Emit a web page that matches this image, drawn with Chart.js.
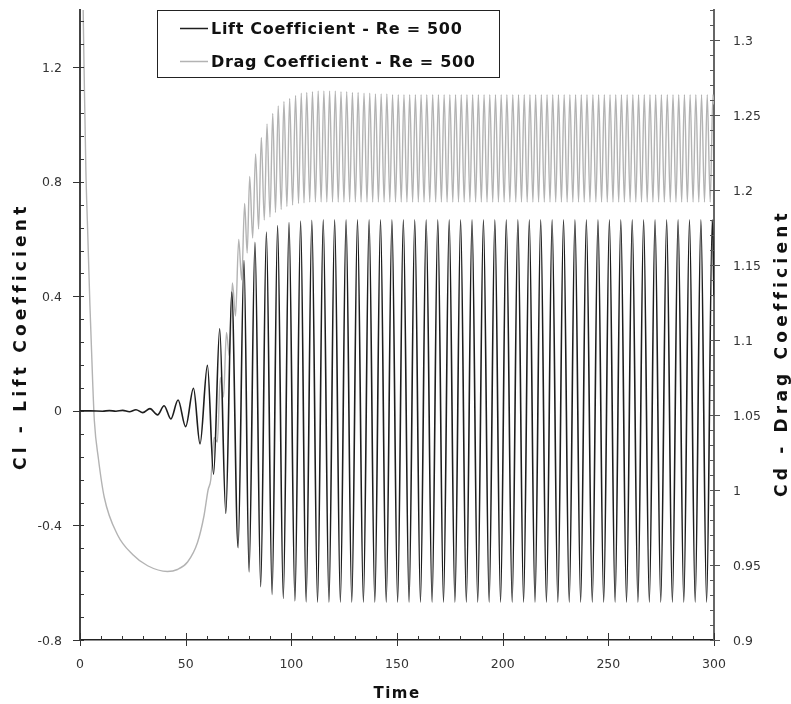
<!DOCTYPE html>
<html>
<head>
<meta charset="utf-8">
<title>Lift and Drag Coefficient - Re = 500</title>
<script src="https://cdn.jsdelivr.net/npm/chart.js@4.4.1/dist/chart.umd.min.js"></script>
<style>
  html, body { margin: 0; padding: 0; background: #fff; }
  #chart { display: block; }
</style>
</head>
<body>
<canvas id="chart" width="791" height="704"></canvas>
<script>
// Tick labels
var timeTicks = [0, 50, 100, 150, 200, 250, 300];
var liftTicks = [-0.8, -0.4, 0, 0.4, 0.8, 1.2];
var dragTicks = [0.9, 0.95, 1, 1.05, 1.1, 1.15, 1.2, 1.25, 1.3];

// Lift coefficient: start / end points, then the peaks and troughs
var liftEdgeTime = [0, 5, 300];
var liftEdge = [0, 0, 0.40];

var liftPeakTime = [13.9, 20.2, 26.5, 33.1, 39.8, 46.4, 53.7, 60.3, 66.1, 71.8,
  77.6, 82.8, 88.2, 93.5, 98.9, 104.4, 109.7,
  115.1, 120.5, 125.9, 131.3, 136.8, 142.2, 147.6, 153.0, 158.4, 163.8,
  169.3, 174.7, 180.1, 185.5, 190.9, 196.3, 201.7, 207.2, 212.6, 218.0,
  223.4, 228.8, 234.2, 239.6, 245.1, 250.5, 255.9, 261.3, 266.7, 272.1,
  277.6, 283.0, 288.4, 293.8, 299.2];
var liftPeak = [0.001, 0.002, 0.004, 0.008, 0.018, 0.038, 0.079, 0.159, 0.287, 0.415,
  0.525, 0.589, 0.625, 0.647, 0.658, 0.663, 0.666,
  0.667, 0.667, 0.667, 0.667, 0.667, 0.667, 0.667, 0.667, 0.667, 0.667,
  0.667, 0.667, 0.667, 0.667, 0.667, 0.667, 0.667, 0.667, 0.667, 0.667,
  0.667, 0.667, 0.667, 0.667, 0.667, 0.667, 0.667, 0.667, 0.667, 0.667,
  0.667, 0.667, 0.667, 0.667, 0.667];

var liftTroughTime = [10.7, 17.0, 23.4, 29.7, 36.7, 43.0, 50.0, 56.8, 63.2, 69.0,
  74.8, 80.0, 85.5, 90.9, 96.2, 101.7, 107.0,
  112.4, 117.8, 123.2, 128.6, 134.1, 139.5, 144.9, 150.3, 155.7, 161.1,
  166.6, 172.0, 177.4, 182.8, 188.2, 193.6, 199.0, 204.5, 209.9, 215.3,
  220.7, 226.1, 231.5, 236.9, 242.4, 247.8, 253.2, 258.6, 264.0, 269.4,
  274.8, 280.3, 285.7, 291.1, 296.5];
var liftTrough = [-0.001, -0.001, -0.003, -0.006, -0.014, -0.028, -0.055, -0.115, -0.221, -0.358,
  -0.478, -0.562, -0.614, -0.641, -0.655, -0.664, -0.667,
  -0.668, -0.668, -0.668, -0.668, -0.668, -0.668, -0.668, -0.668, -0.668, -0.668,
  -0.668, -0.668, -0.668, -0.668, -0.668, -0.668, -0.668, -0.668, -0.668, -0.668,
  -0.668, -0.668, -0.668, -0.668, -0.668, -0.668, -0.668, -0.668, -0.668, -0.668,
  -0.668, -0.668, -0.668, -0.668, -0.668];

// Drag coefficient: initial decay, then peaks and troughs of the oscillation
var dragStartTime = [0, 0.5, 1.0, 1.5, 2.0, 2.8, 3.6, 4.7, 6.0, 6.8, 8.7,
  11.5, 17.8, 24.9, 32.0, 41.4, 46.1, 50.9, 55.6, 58.7, 60.6, 61.9];
var dragStart = [1.90, 1.55, 1.40, 1.32, 1.275, 1.212, 1.174, 1.123, 1.072, 1.046, 1.021,
  0.995, 0.970, 0.957, 0.9495, 0.9457, 0.947, 0.952, 0.965, 0.983, 1.000, 1.007];
var dragEndTime = [300];
var dragEnd = [1.257];

var dragPeakTime = [63.5, 66.4, 69.3, 72.1, 75.1, 77.9, 80.3, 83.1, 85.8, 88.5,
  91.2, 93.8, 96.5, 99.2, 102.0, 104.7, 107.3, 110.0, 112.7, 115.4,
  118.1, 120.8, 123.5, 126.2, 128.9, 131.6, 134.4, 137.1, 139.8, 142.5,
  145.2, 147.9, 150.6, 153.3, 156.0, 158.7, 161.4, 164.1, 166.9, 169.6,
  172.3, 175.0, 177.7, 180.4, 183.1, 185.8, 188.5, 191.2, 193.9, 196.6,
  199.3, 202.0, 204.8, 207.5, 210.2, 212.9, 215.6, 218.3, 221.0, 223.7,
  226.4, 229.1, 231.8, 234.5, 237.2, 239.9, 242.7, 245.4, 248.1, 250.8,
  253.5, 256.2, 258.9, 261.6, 264.3, 267.0, 269.7, 272.4, 275.1, 277.9,
  280.6, 283.3, 286.0, 288.7, 291.4, 294.1, 296.8, 299.5];
var dragPeak = [1.035, 1.075, 1.105, 1.138, 1.167, 1.191, 1.209, 1.224, 1.235, 1.244,
  1.251, 1.256, 1.259, 1.261, 1.263, 1.2645, 1.265, 1.2655, 1.266, 1.266,
  1.266, 1.266, 1.2655, 1.2655, 1.265, 1.265, 1.2645, 1.2645, 1.264, 1.264,
  1.264, 1.2635, 1.2635, 1.2635, 1.2635, 1.2635, 1.2635, 1.2635, 1.2635, 1.2635,
  1.2635, 1.2635, 1.2635, 1.2635, 1.2635, 1.2635, 1.2635, 1.2635, 1.2635, 1.2635,
  1.2635, 1.2635, 1.2635, 1.2635, 1.2635, 1.2635, 1.2635, 1.2635, 1.2635, 1.2635,
  1.2635, 1.2635, 1.2635, 1.2635, 1.2635, 1.2635, 1.2635, 1.2635, 1.2635, 1.2635,
  1.2635, 1.2635, 1.2635, 1.2635, 1.2635, 1.2635, 1.2635, 1.2635, 1.2635, 1.2635,
  1.2635, 1.2635, 1.2635, 1.2635, 1.2635, 1.2635, 1.2635, 1.2635];

var dragTroughTime = [65.0, 67.9, 70.7, 73.6, 76.5, 79.1, 81.7, 84.5, 87.2, 89.9,
  92.5, 95.2, 97.9, 100.6, 103.4, 106.0, 108.7, 111.4, 114.1, 116.8,
  119.5, 122.2, 124.9, 127.6, 130.3, 133.0, 135.8, 138.5, 141.2, 143.9,
  146.6, 149.3, 152.0, 154.7, 157.4, 160.1, 162.8, 165.5, 168.3, 171.0,
  173.7, 176.4, 179.1, 181.8, 184.5, 187.2, 189.9, 192.6, 195.3, 198.0,
  200.7, 203.4, 206.2, 208.9, 211.6, 214.3, 217.0, 219.7, 222.4, 225.1,
  227.8, 230.5, 233.2, 235.9, 238.6, 241.3, 244.1, 246.8, 249.5, 252.2,
  254.9, 257.6, 260.3, 263.0, 265.7, 268.4, 271.1, 273.8, 276.5, 279.3,
  282.0, 284.7, 287.4, 290.1, 292.8, 295.5, 298.2];
var dragTrough = [1.032, 1.062, 1.089, 1.116, 1.140, 1.158, 1.168, 1.174, 1.180, 1.182,
  1.185, 1.187, 1.189, 1.190, 1.191, 1.1915, 1.192, 1.192, 1.192, 1.192,
  1.192, 1.192, 1.192, 1.192, 1.192, 1.192, 1.192, 1.192, 1.192, 1.192,
  1.192, 1.192, 1.192, 1.192, 1.192, 1.192, 1.192, 1.192, 1.192, 1.192,
  1.192, 1.192, 1.192, 1.192, 1.192, 1.192, 1.192, 1.192, 1.192, 1.192,
  1.192, 1.192, 1.192, 1.192, 1.192, 1.192, 1.192, 1.192, 1.192, 1.192,
  1.192, 1.192, 1.192, 1.192, 1.192, 1.192, 1.192, 1.192, 1.192, 1.192,
  1.192, 1.192, 1.192, 1.192, 1.192, 1.192, 1.192, 1.192, 1.192, 1.192,
  1.192, 1.192, 1.192, 1.192, 1.192, 1.192, 1.192];

// pair up times and values, then sort everything along the time axis
function pairs(times, values) {
  return times.map(function(t, i) { return { x: t, y: values[i] }; });
}
function merge() {
  var out = [];
  for (var i = 0; i < arguments.length; i++) out = out.concat(arguments[i]);
  return out.sort(function(a, b) { return a.x - b.x; });
}

var liftPoints = merge(pairs(liftEdgeTime, liftEdge), pairs(liftPeakTime, liftPeak),
  pairs(liftTroughTime, liftTrough));
var dragPoints = merge(pairs(dragStartTime, dragStart), pairs(dragPeakTime, dragPeak),
  pairs(dragTroughTime, dragTrough), pairs(dragEndTime, dragEnd));

function fixedTicks(values) {
  return function(scale) {
    scale.ticks = values.map(function(v) { return { value: v }; });
  };
}
function fixedSize(w, h) {
  return function(scale) {
    if (w !== null) scale.width = w;
    if (h !== null) scale.height = h;
    scale.paddingTop = 0; scale.paddingBottom = 0;
    scale.paddingLeft = 0; scale.paddingRight = 0;
  };
}

// tick marks + labels, axis titles and the boxed legend
var decorations = {
  id: 'decorations',
  afterDraw: function(chart) {
    var ctx = chart.ctx;
    var a = chart.chartArea;
    var sx = chart.scales.x, sl = chart.scales.y, sr = chart.scales.y2;
    var k, p, major;
    ctx.save();
    ctx.strokeStyle = '#333';
    ctx.lineWidth = 1;

    for (k = 0; k <= 30; k++) {
      p = Math.round(sx.getPixelForValue(k * 10)) + 0.5;
      major = k % 5 === 0;
      ctx.beginPath();
      ctx.moveTo(p, a.bottom - (major ? 7 : 4));
      ctx.lineTo(p, a.bottom + (major ? 6 : 0));
      ctx.stroke();
    }
    for (k = 0; k <= 27; k++) {
      p = Math.round(sl.getPixelForValue(-0.8 + k * 0.08)) + 0.5;
      major = k % 5 === 0;
      ctx.beginPath();
      ctx.moveTo(a.left - (major ? 7 : 0), p);
      ctx.lineTo(a.left + 4, p);
      ctx.stroke();
    }
    ctx.strokeStyle = '#555';
    for (k = 0; k <= 42; k++) {
      p = Math.round(sr.getPixelForValue(0.9 + k * 0.01)) + 0.5;
      major = k % 5 === 0;
      ctx.beginPath();
      ctx.moveTo(a.right - 4, p);
      ctx.lineTo(a.right + (major ? 6 : 0), p);
      ctx.stroke();
    }

    // tick labels
    ctx.font = '12.5px "DejaVu Sans"';
    ctx.fillStyle = '#333';
    ctx.textBaseline = 'alphabetic';
    ctx.textAlign = 'center';
    timeTicks.forEach(function(v) {
      ctx.fillText(String(v), sx.getPixelForValue(v), a.bottom + 28);
    });
    ctx.textAlign = 'right';
    liftTicks.forEach(function(v) {
      ctx.fillText(String(v), a.left - 18, sl.getPixelForValue(v) + 4.5);
    });
    ctx.textAlign = 'left';
    dragTicks.forEach(function(v) {
      ctx.fillText(String(v), a.right + 19, sr.getPixelForValue(v) + 4.5);
    });

    // axis titles
    ctx.fillStyle = '#111';
    ctx.font = 'bold 15px "DejaVu Sans"';
    ctx.letterSpacing = '1.5px';
    ctx.textAlign = 'center';
    ctx.fillText('Time', (a.left + a.right) / 2, 698);

    ctx.font = 'bold 17px "DejaVu Sans"';
    ctx.letterSpacing = '4.2px';
    ctx.textAlign = 'left';
    ctx.save();
    ctx.translate(26, 470);
    ctx.rotate(-Math.PI / 2);
    ctx.fillText('Cl - Lift Coefficient', 0, 0);
    ctx.restore();
    ctx.save();
    ctx.translate(787, 497);
    ctx.rotate(-Math.PI / 2);
    ctx.fillText('Cd - Drag Coefficient', 0, 0);
    ctx.restore();

    // legend box
    ctx.letterSpacing = '0px';
    ctx.fillStyle = '#fff';
    ctx.fillRect(157, 10, 342, 67);
    ctx.strokeStyle = '#222';
    ctx.lineWidth = 1;
    ctx.strokeRect(157.5, 10.5, 342, 67);
    var rows = [28, 61];
    ctx.font = 'bold 16px "DejaVu Sans"';
    ctx.letterSpacing = '0.7px';
    chart.data.datasets.forEach(function(ds, i) {
      ctx.strokeStyle = ds.borderColor;
      ctx.lineWidth = 1.5;
      ctx.beginPath();
      ctx.moveTo(180, rows[i] + 0.5);
      ctx.lineTo(208, rows[i] + 0.5);
      ctx.stroke();
      ctx.fillStyle = '#111';
      ctx.fillText(ds.label, 211, rows[i] + 5.5);
    });
    ctx.restore();
  }
};

var chart = new Chart(document.getElementById('chart'), {
  type: 'line',
  data: {
    datasets: [{
      label: 'Lift Coefficient - Re = 500',
      data: liftPoints,
      yAxisID: 'y',
      borderColor: '#1e1e1e',
      borderWidth: 1.6,
      pointRadius: 0,
      cubicInterpolationMode: 'monotone',
      fill: false
    }, {
      label: 'Drag Coefficient - Re = 500',
      data: dragPoints,
      yAxisID: 'y2',
      borderColor: '#b3b3b3',
      borderWidth: 1.4,
      pointRadius: 0,
      cubicInterpolationMode: 'monotone',
      fill: false
    }]
  },
  options: {
    responsive: false,
    animation: false,
    layout: { padding: { top: 10, left: 0, right: 0, bottom: 0 } },
    plugins: { legend: { display: false }, tooltip: { enabled: false } },
    scales: {
      x: {
        type: 'linear',
        min: 0, max: 300,
        afterBuildTicks: fixedTicks(timeTicks),
        afterFit: fixedSize(null, 64),
        grid: { display: false },
        border: { color: '#222', width: 1.5 },
        ticks: { display: false }
      },
      y: {
        type: 'linear',
        position: 'left',
        min: -0.8, max: 1.4,
        afterBuildTicks: fixedTicks(liftTicks),
        afterFit: fixedSize(80, null),
        grid: { display: false },
        border: { color: '#444', width: 2 },
        ticks: { display: false }
      },
      y2: {
        type: 'linear',
        position: 'right',
        min: 0.9, max: 1.32,
        afterBuildTicks: fixedTicks(dragTicks),
        afterFit: fixedSize(77, null),
        grid: { display: false },
        border: { color: '#666', width: 2 },
        ticks: { display: false }
      }
    }
  },
  plugins: [decorations]
});
</script>
</body>
</html>
